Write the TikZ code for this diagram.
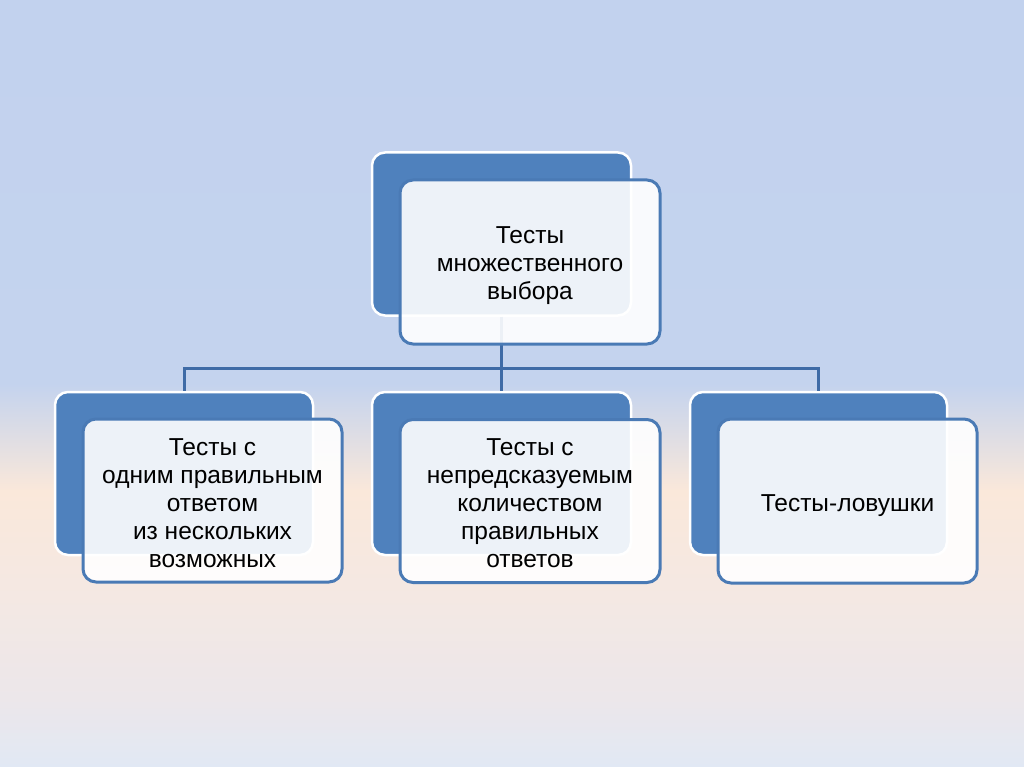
\documentclass[tikz,border=0pt]{standalone}
\usepackage{fontspec}
\setmainfont{Liberation Sans}
\definecolor{bgtop}{HTML}{C2D2EE}
\definecolor{bgblue}{HTML}{C4D3EE}
\definecolor{bgpeach}{HTML}{FAE8DA}
\definecolor{bgpeach2}{HTML}{F5E8E2}
\definecolor{bggray}{HTML}{ECE7EA}
\definecolor{bgbot}{HTML}{E1E8F4}
\definecolor{accent}{HTML}{4F81BD}
\definecolor{frontline}{HTML}{4A7AB5}
\definecolor{conn}{HTML}{3F6BA6}
\pgfdeclareverticalshading{bgshade}{100bp}{color(0bp)=(bgbot); color(25bp)=(bgbot); color(29.5bp)=(bggray); color(37bp)=(bgpeach2); color(43bp)=(bgpeach); color(50bp)=(bgblue); color(75bp)=(bgtop); color(100bp)=(bgtop)}
\begin{document}
\begin{tikzpicture}[x=1pt,y=-1pt,
  backbox/.style={draw=white, line width=2.5pt, fill=accent, rounded corners=13pt, minimum width=#1, minimum height=163pt, inner sep=0pt},
  backbox/.default=258pt,
  frontbox/.style={draw=frontline, line width=3pt, fill=white, fill opacity=0.9, rounded corners=13pt, minimum width=259pt, minimum height=163pt, inner sep=0pt},
  boxtext/.style={align=center, inner sep=0pt, font=\fontsize{24.5}{28}\selectfont},
  connector/.style={draw=conn, line width=3pt}]
\useasboundingbox (0,0) rectangle (1024,767);
\shade[shading=bgshade] (0,0) rectangle (1024,767);
% back boxes
\node[backbox=259pt] (tb) at (501.5,234) {};
\node[backbox] (lb) at (184,473.5) {};
\node[backbox=259pt] (mb) at (501.5,473.5) {};
\node[backbox=257pt] (rb) at (818.5,473.5) {};
% connectors
\coordinate (bus) at (501.5,368);
\draw[connector] (tb.south) -- (tb.south |- bus) -| (lb.north);
\draw[connector] (tb.south |- bus) -| (rb.north);
\draw[connector] (tb.south |- bus) -- (mb.north);
% front boxes
\node[frontbox, minimum width=260pt, minimum height=164pt] (tf) at (530,262) {};
\node[frontbox] (lf) at (212.5,500.5) {};
\node[frontbox, minimum width=260pt] (mf) at (530,501) {};
\node[frontbox, minimum height=164pt] (rf) at (847.5,501) {};
% texts
\node[boxtext] (tft) at ([yshift=-4pt]tf.center) {Тесты\\множественного\\выбора};
\node[boxtext] (lft) at ([yshift=-2.5pt]lf.center) {Тесты с\\одним правильным\\ответом\\из нескольких\\возможных};
\node[boxtext] (mft) at ([yshift=-2.5pt]mf.center) {Тесты с\\непредсказуемым\\количеством\\правильных\\ответов};
\node[boxtext] (rft) at ([yshift=-4.5pt]rf.center) {Тесты-ловушки};
\end{tikzpicture}
\end{document}
